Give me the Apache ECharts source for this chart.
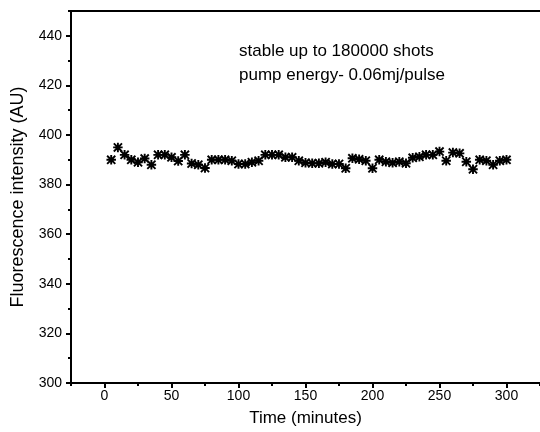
<!DOCTYPE html>
<html>
<head>
<meta charset="utf-8">
<script src="https://cdn.jsdelivr.net/npm/echarts@6/dist/echarts.min.js"></script>
<style>
html,body{margin:0;padding:0;background:#fff;}
#chart{width:540px;height:432px;}
</style>
</head>
<body>
<div id="chart"></div>
<script>
// Data
const times = [5,10,15,20,25,30,35,40,45,50,55,60,65,70,75,80,85,90,95,100,
  105,110,115,120,125,130,135,140,145,150,155,160,165,170,175,180,185,190,195,200,
  205,210,215,220,225,230,235,240,245,250,255,260,265,270,275,280,285,290,295,300];
const intensity = [390,395,392,390,389,390.5,388,392,392,391,389.5,392,388.5,388,386.7,390,390,390,389.6,388.3,
  388.3,389,389.6,392,392,392,391,391,389.6,388.8,388.6,388.6,389,388.3,388.3,386.6,390.6,390.2,389.6,386.6,
  390,389.2,388.8,389.2,388.6,390.8,391.2,392,392,393.3,389.6,392.9,392.6,389.2,386.2,390,389.6,388,389.6,390];
const xTickLabels = [0,50,100,150,200,250,300];
const yTickLabels = [300,320,340,360,380,400,420,440];
const xMinorTicks = [-25,25,75,125,175,225,275,325];
const yMinorTicks = [310,330,350,370,390,410,430,450];
const xName = 'Time (minutes)';
const yName = 'Fluorescence intensity (AU)';
const annotationLines = ['stable up to 180000 shots', 'pump energy- 0.06mj/pulse'];

const FONT = 'Liberation Sans, Arial, sans-serif';
const chart = echarts.init(document.getElementById('chart'), null, {renderer:'canvas'});

const asterisk = 'path://M8 0L12 0L12 20L8 20Z M0 8L20 8L20 12L0 12Z M2.8 0L20 17.2L17.2 20L0 2.8Z M17.2 0L20 2.8L2.8 20L0 17.2Z';

const xBase = {type:'value', min:-25, max:325, splitLine:{show:false}};
const yBase = {type:'value', min:300, max:450, splitLine:{show:false}};

chart.setOption({
  animation:false,
  backgroundColor:'#fff',
  grid:{left:71, top:11, right:0, bottom:49, containLabel:false},
  xAxis:[
    Object.assign({}, xBase, {
      position:'bottom',
      name:xName, nameLocation:'middle', nameGap:27,
      nameTextStyle:{fontFamily:FONT, fontSize:17, color:'#000'},
      axisLine:{show:true, onZero:false, lineStyle:{color:'#000', width:2}},
      axisTick:{show:true, inside:false, length:5, customValues:xTickLabels, lineStyle:{color:'#000', width:2}},
      axisLabel:{show:true, customValues:xTickLabels, margin:6, fontFamily:FONT, fontSize:14, color:'#000'}
    }),
    Object.assign({}, xBase, {
      position:'bottom',
      axisLine:{show:false, onZero:false},
      axisTick:{show:true, inside:false, length:3, customValues:xMinorTicks, lineStyle:{color:'#000', width:2}},
      axisLabel:{show:false}
    }),
    Object.assign({}, xBase, {
      position:'top',
      axisLine:{show:true, onZero:false, lineStyle:{color:'#000', width:2}},
      axisTick:{show:false},
      axisLabel:{show:false}
    })
  ],
  yAxis:[
    Object.assign({}, yBase, {
      position:'left',
      name:yName, nameLocation:'middle', nameGap:44, nameRotate:90,
      nameTextStyle:{fontFamily:FONT, fontSize:18, color:'#000'},
      axisLine:{show:true, onZero:false, lineStyle:{color:'#000', width:2}},
      axisTick:{show:true, inside:false, length:5, customValues:yTickLabels, lineStyle:{color:'#000', width:2}},
      axisLabel:{show:true, customValues:yTickLabels, margin:9, fontFamily:FONT, fontSize:14, color:'#000'}
    }),
    Object.assign({}, yBase, {
      position:'left',
      axisLine:{show:false, onZero:false},
      axisTick:{show:true, inside:false, length:3, customValues:yMinorTicks, lineStyle:{color:'#000', width:2}},
      axisLabel:{show:false}
    }),
    Object.assign({}, yBase, {
      position:'right',
      axisLine:{show:true, onZero:false, lineStyle:{color:'#b0b0b0', width:1}},
      axisTick:{show:false},
      axisLabel:{show:false}
    })
  ],
  series:[{
    type:'scatter',
    xAxisIndex:0, yAxisIndex:0,
    symbol:asterisk,
    symbolSize:9.5,
    itemStyle:{color:'#000', opacity:1},
    data:times.map((t,i)=>[t, intensity[i]])
  }],
  graphic:[{
    type:'text',
    left:239, top:39,
    style:{
      text:annotationLines.join('\n'),
      fontFamily:FONT, fontSize:17, lineHeight:24,
      fill:'#000'
    }
  }]
});
</script>
</body>
</html>
